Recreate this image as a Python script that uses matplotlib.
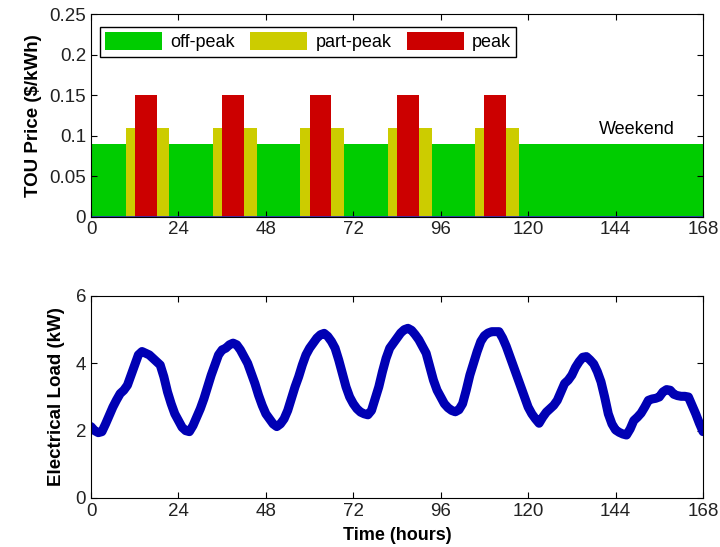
import matplotlib
matplotlib.use("Agg")
import matplotlib.pyplot as plt

plt.rcParams['font.family'] = ['Liberation Sans', 'DejaVu Sans']

# TOU tariff (weekdays only, weekend is all off-peak)
tier_names = ["off-peak", "part-peak", "peak"]
tier_colors = ["#00CC00", "#CCCC00", "#CC0000"]
tier_prices = [0.09, 0.11, 0.15]
# one weekday: (start hour, end hour, tier index)
weekday_blocks = [(0, 9.5, 0), (9.5, 12, 1), (12, 18, 2), (18, 21.5, 1), (21.5, 24, 0)]
n_weekdays = 5
weekend_block = (120, 168, 0)

# hourly electrical load (kW), hours 0..168
load = [2.12, 2.0, 1.94, 1.97, 2.2, 2.45, 2.7, 2.91, 3.1, 3.2,
        3.35, 3.65, 3.95, 4.25, 4.35, 4.3, 4.25, 4.15, 4.05, 3.95,
        3.6, 3.15, 2.8, 2.5, 2.3, 2.1, 2.0, 1.97, 2.15, 2.4,
        2.65, 2.95, 3.3, 3.65, 3.95, 4.25, 4.4, 4.45, 4.55, 4.6,
        4.55, 4.4, 4.2, 4.0, 3.7, 3.4, 3.05, 2.75, 2.5, 2.35,
        2.2, 2.12, 2.2, 2.35, 2.6, 2.95, 3.3, 3.6, 3.95, 4.25,
        4.45, 4.6, 4.75, 4.85, 4.89, 4.8, 4.65, 4.45, 4.1, 3.7,
        3.3, 3.0, 2.8, 2.65, 2.55, 2.5, 2.47, 2.6, 2.95, 3.3,
        3.75, 4.15, 4.45, 4.6, 4.75, 4.9, 5.0, 5.04, 4.98, 4.85,
        4.7, 4.5, 4.3, 3.9, 3.5, 3.2, 3.0, 2.8, 2.68, 2.6,
        2.56, 2.62, 2.8, 3.2, 3.65, 4.0, 4.35, 4.65, 4.82, 4.9,
        4.94, 4.94, 4.94, 4.75, 4.5, 4.2, 3.9, 3.6, 3.3, 3.0,
        2.7, 2.5, 2.35, 2.22, 2.4, 2.55, 2.65, 2.75, 2.9, 3.15,
        3.4, 3.5, 3.65, 3.88, 4.05, 4.18, 4.2, 4.1, 3.98, 3.75,
        3.45, 3.0, 2.5, 2.2, 2.02, 1.95, 1.9, 1.87, 2.05, 2.3,
        2.4, 2.52, 2.7, 2.9, 2.94, 2.96, 3.0, 3.15, 3.22, 3.2,
        3.08, 3.04, 3.02, 3.02, 3.0, 2.75, 2.5, 2.22, 1.97]
hours = list(range(len(load)))

xticks = [0, 24, 48, 72, 96, 120, 144, 168]

fig = plt.figure(figsize=(7.2, 5.47), dpi=100)
ax1 = fig.add_axes([0.1264, 0.6042, 0.85, 0.3693])
ax2 = fig.add_axes([0.1264, 0.0896, 0.85, 0.3693])

# top: TOU price
blocks = []
for d in range(n_weekdays):
    for s, e, t in weekday_blocks:
        blocks.append((24 * d + s, 24 * d + e, t))
blocks.append(weekend_block)

drawn = set()
for s, e, t in blocks:
    lab = tier_names[t] if t not in drawn else None
    drawn.add(t)
    ax1.bar(s, tier_prices[t], width=e - s, align='edge', color=tier_colors[t],
            edgecolor='none', label=lab)
ax1.axhline(0, color='#3030C0', lw=1.2)

handles, labels = ax1.get_legend_handles_labels()
order = [labels.index(n) for n in tier_names]
leg = ax1.legend([handles[i] for i in order], [labels[i] for i in order],
                 loc='upper left', ncol=3, fontsize=13, handlelength=3.15,
                 handleheight=1.1, handletextpad=0.45, columnspacing=0.85,
                 borderpad=0.3, borderaxespad=0, fancybox=False, framealpha=1,
                 bbox_to_anchor=(0.0147, 0.938))
leg.get_frame().set_edgecolor('black')
leg.get_frame().set_linewidth(1.0)

ax1.text(139.5, 0.108, "Weekend", fontsize=13, va='center', ha='left')
ax1.set_xlim(0, 168)
ax1.set_ylim(0, 0.25)
ax1.set_xticks(xticks)
ax1.set_yticks([0, 0.05, 0.1, 0.15, 0.2, 0.25])
ax1.set_yticklabels(["0", "0.05", "0.1", "0.15", "0.2", "0.25"])
ax1.set_ylabel("TOU Price (\\$/kWh)", fontsize=13.5, fontweight='bold', labelpad=5)

# bottom: electrical load
ax2.plot(hours, load, color='#0000B4', lw=6.5, solid_joinstyle='round',
         solid_capstyle='round')
ax2.set_xlim(0, 168)
ax2.set_ylim(0, 6)
ax2.set_xticks(xticks)
ax2.set_yticks([0, 2, 4, 6])
ax2.set_ylabel("Electrical Load (kW)", fontsize=13.5, fontweight='bold', labelpad=8)
ax2.set_xlabel("Time (hours)", fontsize=13, fontweight='bold', labelpad=5)

for ax in (ax1, ax2):
    ax.tick_params(direction='in', top=True, right=True, labelsize=13.5,
                   length=4, width=0.8, labelcolor='#222222')
    for sp in ax.spines.values():
        sp.set_linewidth(0.8)

fig.savefig("out.png", dpi=100)
